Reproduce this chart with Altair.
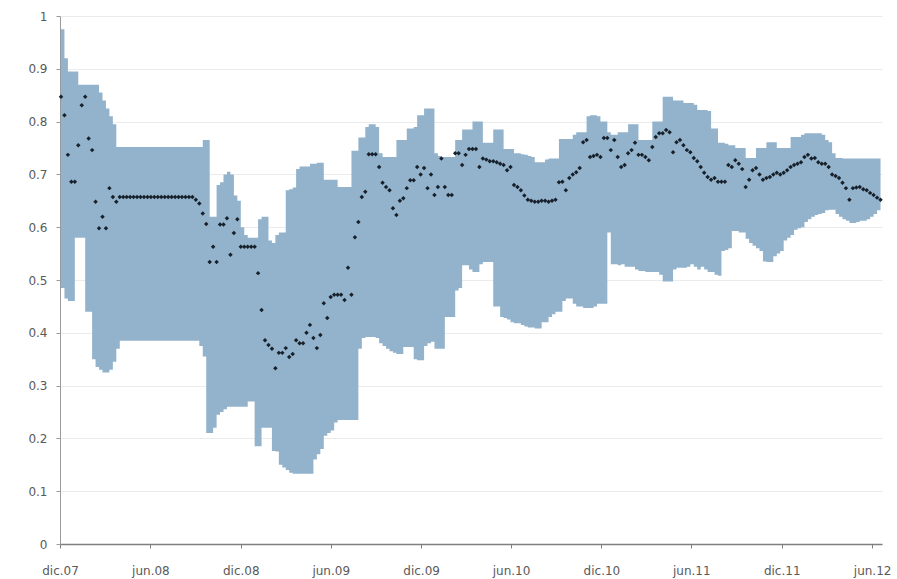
import altair as alt
import pandas as pd

# Weekly observations starting on the first Monday of December 2007
first_week = "2007-12-03"

# Upper edge of the interval (step band)
upper = [
    0.975, 0.92, 0.895, 0.895, 0.895, 0.87, 0.87, 0.87, 0.87, 0.87,
    0.87, 0.855, 0.84, 0.825, 0.81, 0.795, 0.752, 0.752, 0.752, 0.752,
    0.752, 0.752, 0.752, 0.752, 0.752, 0.752, 0.752, 0.752, 0.752, 0.752,
    0.752, 0.752, 0.752, 0.752, 0.752, 0.752, 0.752, 0.752, 0.752, 0.752,
    0.752, 0.765, 0.765, 0.62, 0.62, 0.68, 0.685, 0.70, 0.705, 0.70,
    0.66, 0.65, 0.60, 0.585, 0.58, 0.58, 0.58, 0.615, 0.62, 0.62,
    0.575, 0.57, 0.585, 0.59, 0.59, 0.67, 0.672, 0.675, 0.71, 0.715,
    0.715, 0.715, 0.72, 0.72, 0.722, 0.722, 0.69, 0.69, 0.69, 0.69,
    0.676, 0.676, 0.676, 0.676, 0.745, 0.745, 0.77, 0.77, 0.79, 0.795,
    0.795, 0.79, 0.74, 0.733, 0.733, 0.733, 0.733, 0.765, 0.765, 0.765,
    0.787, 0.787, 0.79, 0.812, 0.812, 0.825, 0.825, 0.825, 0.74, 0.735,
    0.733, 0.733, 0.733, 0.733, 0.765, 0.765, 0.785, 0.785, 0.785, 0.80,
    0.80, 0.80, 0.76, 0.76, 0.76, 0.785, 0.785, 0.785, 0.748, 0.748,
    0.748, 0.74, 0.74, 0.738, 0.737, 0.735, 0.733, 0.723, 0.723, 0.723,
    0.728, 0.73, 0.73, 0.73, 0.767, 0.767, 0.767, 0.767, 0.775, 0.78,
    0.78, 0.78, 0.81, 0.812, 0.812, 0.81, 0.80, 0.80, 0.78, 0.775,
    0.775, 0.78, 0.78, 0.78, 0.795, 0.795, 0.795, 0.765, 0.765, 0.765,
    0.765, 0.80, 0.80, 0.80, 0.847, 0.847, 0.847, 0.84, 0.84, 0.84,
    0.835, 0.835, 0.835, 0.832, 0.822, 0.822, 0.822, 0.82, 0.787, 0.787,
    0.76, 0.76, 0.758, 0.755, 0.755, 0.75, 0.75, 0.75, 0.731, 0.731,
    0.731, 0.75, 0.75, 0.75, 0.761, 0.761, 0.761, 0.75, 0.75, 0.75,
    0.75, 0.771, 0.771, 0.771, 0.775, 0.778, 0.778, 0.778, 0.778, 0.778,
    0.775, 0.765, 0.761, 0.74, 0.731, 0.731, 0.73, 0.73, 0.73, 0.73,
    0.73, 0.73, 0.73, 0.73, 0.73, 0.73, 0.73, 0.73,
]

# Lower edge of the interval
lower = [
    0.485, 0.465, 0.46, 0.46, 0.58, 0.58, 0.58, 0.44, 0.44, 0.35,
    0.335, 0.33, 0.325, 0.325, 0.33, 0.345, 0.37, 0.385, 0.385, 0.385,
    0.385, 0.385, 0.385, 0.385, 0.385, 0.385, 0.385, 0.385, 0.385, 0.385,
    0.385, 0.385, 0.385, 0.385, 0.385, 0.385, 0.385, 0.385, 0.385, 0.385,
    0.375, 0.355, 0.21, 0.21, 0.22, 0.245, 0.25, 0.255, 0.26, 0.26,
    0.26, 0.26, 0.26, 0.26, 0.27, 0.27, 0.185, 0.185, 0.22, 0.22,
    0.22, 0.176, 0.175, 0.15, 0.145, 0.14, 0.135, 0.133, 0.133, 0.133,
    0.133, 0.133, 0.133, 0.16, 0.17, 0.18, 0.205, 0.21, 0.215, 0.23,
    0.235, 0.235, 0.235, 0.235, 0.235, 0.235, 0.37, 0.39, 0.392, 0.392,
    0.392, 0.39, 0.38, 0.375, 0.37, 0.365, 0.362, 0.36, 0.36, 0.373,
    0.373, 0.373, 0.35, 0.348, 0.348, 0.375, 0.38, 0.383, 0.37, 0.37,
    0.37, 0.43, 0.43, 0.43, 0.48, 0.485, 0.528, 0.528, 0.52, 0.515,
    0.515, 0.53, 0.534, 0.534, 0.534, 0.45, 0.45, 0.43, 0.428, 0.425,
    0.42, 0.418, 0.418, 0.415, 0.412, 0.41, 0.41, 0.408, 0.408, 0.42,
    0.42, 0.43, 0.435, 0.44, 0.44, 0.46, 0.465, 0.465, 0.455, 0.45,
    0.45, 0.447, 0.447, 0.447, 0.45, 0.455, 0.455, 0.455, 0.59, 0.53,
    0.53, 0.528, 0.53, 0.525, 0.525, 0.525, 0.52, 0.517, 0.517, 0.515,
    0.515, 0.515, 0.515, 0.51, 0.497, 0.497, 0.497, 0.52, 0.523, 0.523,
    0.523, 0.525, 0.53, 0.525, 0.52, 0.525, 0.52, 0.515, 0.515, 0.51,
    0.508, 0.555, 0.557, 0.56, 0.593, 0.593, 0.59, 0.59, 0.578, 0.57,
    0.565, 0.56, 0.555, 0.535, 0.534, 0.534, 0.545, 0.55, 0.555, 0.575,
    0.58, 0.585, 0.595, 0.598, 0.6, 0.61, 0.615, 0.62, 0.623, 0.625,
    0.627, 0.632, 0.633, 0.633, 0.625, 0.62, 0.615, 0.612, 0.608, 0.608,
    0.61, 0.612, 0.612, 0.615, 0.62, 0.625, 0.632, 0.64,
]

# Point estimate for each week
estimate = [
    0.847, 0.812, 0.737, 0.686, 0.686, 0.755, 0.831, 0.847, 0.768, 0.746,
    0.648, 0.598, 0.62, 0.598, 0.674, 0.657, 0.648, 0.657, 0.657, 0.657,
    0.657, 0.657, 0.657, 0.657, 0.657, 0.657, 0.657, 0.657, 0.657, 0.657,
    0.657, 0.657, 0.657, 0.657, 0.657, 0.657, 0.657, 0.657, 0.657, 0.652,
    0.645, 0.626, 0.606, 0.534, 0.563, 0.534, 0.605, 0.605, 0.617, 0.548,
    0.589, 0.615, 0.563, 0.563, 0.563, 0.563, 0.563, 0.513, 0.443, 0.386,
    0.377, 0.37, 0.333, 0.362, 0.362, 0.371, 0.354, 0.36, 0.386, 0.38,
    0.38, 0.40, 0.415, 0.39, 0.371, 0.396, 0.456, 0.428, 0.468, 0.472,
    0.472, 0.472, 0.462, 0.523, 0.472, 0.581, 0.61, 0.657, 0.667, 0.738,
    0.738, 0.738, 0.714, 0.684, 0.676, 0.67, 0.636, 0.623, 0.65, 0.655,
    0.674, 0.689, 0.689, 0.714, 0.70, 0.712, 0.674, 0.70, 0.661, 0.676,
    0.73, 0.676, 0.661, 0.661, 0.74, 0.74, 0.718, 0.737, 0.748, 0.748,
    0.748, 0.714, 0.73, 0.728, 0.725, 0.725, 0.723, 0.72, 0.718, 0.708,
    0.714, 0.68, 0.676, 0.67, 0.66, 0.652, 0.65, 0.648, 0.648, 0.65,
    0.65, 0.648, 0.65, 0.652, 0.685, 0.686, 0.67, 0.693, 0.70, 0.704,
    0.712, 0.761, 0.765, 0.733, 0.735, 0.737, 0.733, 0.769, 0.769, 0.746,
    0.765, 0.733, 0.714, 0.718, 0.74, 0.746, 0.76, 0.737, 0.737, 0.733,
    0.727, 0.752, 0.771, 0.778, 0.778, 0.784, 0.78, 0.742, 0.761, 0.765,
    0.755, 0.746, 0.742, 0.731, 0.725, 0.714, 0.703, 0.695, 0.69, 0.693,
    0.686, 0.686, 0.686, 0.718, 0.714, 0.727, 0.72, 0.71, 0.676, 0.69,
    0.708, 0.712, 0.70, 0.69, 0.693, 0.695, 0.70, 0.703, 0.70, 0.703,
    0.708, 0.714, 0.718, 0.72, 0.723, 0.733, 0.737, 0.73, 0.731, 0.723,
    0.72, 0.72, 0.714, 0.70, 0.697, 0.693, 0.684, 0.674, 0.652, 0.674,
    0.675, 0.676, 0.672, 0.67, 0.665, 0.661, 0.656, 0.652,
]

# Axis ticks: every December and June
tick_dates = [
    (2007, 12), (2008, 6), (2008, 12), (2009, 6), (2009, 12),
    (2010, 6), (2010, 12), (2011, 6), (2011, 12), (2012, 6),
]
y_ticks = [0, 0.1, 0.2, 0.3, 0.4, 0.5, 0.6, 0.7, 0.8, 0.9, 1]

weeks = pd.date_range(first_week, periods=len(estimate), freq="7D")
df = pd.DataFrame({"fecha": weeks, "sup": upper, "inf": lower, "est": estimate})

FONT = "DejaVu Sans"
LABEL = "#5a5a5a"

x_scale = alt.Scale(domain=[alt.DateTime(year=2007, month=12, date=1),
                            alt.DateTime(year=2012, month=6, date=21)])
x_axis = alt.Axis(
    values=[alt.DateTime(year=y, month=m, date=1) for y, m in tick_dates],
    labelExpr="(month(datum.value) == 11 ? 'dic.' : 'jun.') + timeFormat(datum.value, '%y')",
    grid=False, title=None, labelFlush=False,
    domainColor="#7f7f7f", domainWidth=1.5,
    tickColor="#7f7f7f", tickSize=4,
    labelFont=FONT, labelFontSize=12, labelColor=LABEL, labelPadding=17,
)
y_scale = alt.Scale(domain=[0, 1], nice=False)
y_axis = alt.Axis(
    values=y_ticks, format=".1~f", title=None, labelFlush=False,
    grid=True, gridColor="#ebebeb", gridWidth=1,
    domainColor="#9a9a9a", tickColor="#9a9a9a", tickSize=4,
    labelFont=FONT, labelFontSize=12, labelColor=LABEL, labelPadding=9,
)

band = alt.Chart(df).mark_area(
    interpolate="step-after", color="#92b3cb", opacity=1
).encode(
    x=alt.X("fecha:T", scale=x_scale, axis=x_axis),
    y=alt.Y("sup:Q", scale=y_scale, axis=y_axis),
    y2="inf:Q",
)

dots = alt.Chart(df).mark_point(
    shape="diamond", filled=True, size=20, color="#17202a", opacity=1
).encode(
    x=alt.X("fecha:T", scale=x_scale),
    y=alt.Y("est:Q", scale=y_scale),
)

chart = (band + dots).properties(
    width=822, height=528,
    autosize=alt.AutoSizeParams(type="none"),
    padding={"left": 60, "top": 16, "right": 15, "bottom": 35},
    background="white",
).configure_view(stroke=None)

chart.save("out.html", embed_options={"renderer": "svg", "actions": False})
